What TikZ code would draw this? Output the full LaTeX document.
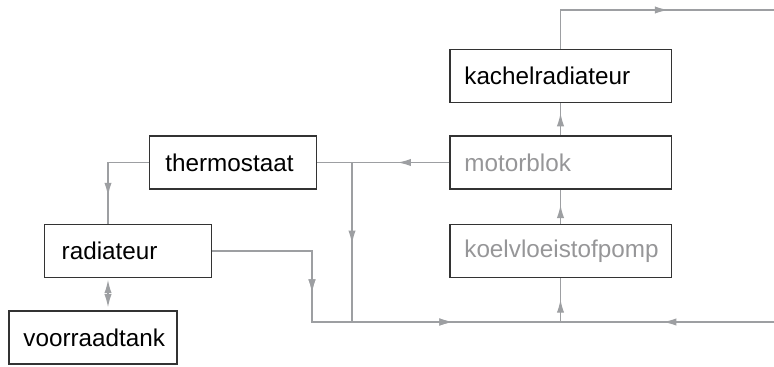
\documentclass[tikz,border=0pt]{standalone}
\usepackage{fontspec}
\setmainfont{Liberation Sans}
\usetikzlibrary{arrows.meta,decorations.markings}
\definecolor{pipegray}{RGB}{157,159,162}
\definecolor{boxdark}{RGB}{51,51,51}
\definecolor{textgray}{RGB}{150,150,152}
\tikzset{
  unit/.style={draw=boxdark, line width=1.2pt, inner xsep=11pt, inner ysep=0pt,
    minimum height=40pt, align=left, font=\fontsize{18.2}{21}\selectfont},
  narrow/.style={unit, text width=104.4pt},
  wide/.style={unit, text width=144.2pt},
  pipe/.style={draw=pipegray, line width=1pt},
  flowtip/.style={postaction={decorate}, decoration={markings,
    mark=at position #1 with {\arrow[pipegray]{Latex[length=10pt,width=5.5pt]}}}},
}
\begin{document}
\begin{tikzpicture}[x=0.75pt,y=0.75pt,yscale=-1,xscale=1]
\useasboundingbox (0,0) rectangle (774,367);

% units
\node[narrow, inner xsep=12pt, text width=101.4pt] (thermo) at (233,162.5) {thermostaat};
\node[narrow, inner xsep=13pt, text width=99.4pt] (rad) at (128,251) {radiateur};
\node[narrow] (tank) at (93,337.5) {voorraadtank};
\node[wide] (kachel) at (560.5,76) {kachelradiateur};
\node[wide, text=textgray] (motor) at (560.5,162.5) {motorblok};
\node[wide, text=textgray] (pomp) at (560.5,251) {koelvloeistofpomp};

% helper points
\coordinate (vtx) at (108,0);
\coordinate (outtop) at (774,10);
\coordinate (jt) at (352,162.5);
\coordinate (bl) at (312,322);
\coordinate (inbot) at (774,322);
\coordinate (jp) at (pomp.south |- inbot);

% pipes
\draw[pipe, flowtip=0.58] (kachel.north) |- (outtop);
\draw[pipe, flowtip=0.7] (motor.north) -- (kachel.south);
\draw[pipe, flowtip=0.56] (pomp.north) -- (motor.south);
\draw[pipe, flowtip=0.52] (jp) -- (pomp.south);
\draw[pipe, flowtip=0.39] (motor.west) -- (thermo.east);
\draw[pipe, flowtip=0.73] (thermo.west) -| (vtx |- rad.north);
\draw[pipe, {Latex[length=10pt,width=5.5pt]}-{Latex[length=10pt,width=5.5pt]}, shorten <=1pt, shorten >=2pt]
  (vtx |- rad.south) -- (vtx |- tank.north);
\draw[pipe, flowtip=0.51] (jt) -- (jt |- inbot);
\draw[pipe, flowtip=0.337, flowtip=0.743] (rad.east) -| (bl) -- (jp);
\draw[pipe, flowtip=0.52] (inbot) -- (jp);
\end{tikzpicture}
\end{document}
